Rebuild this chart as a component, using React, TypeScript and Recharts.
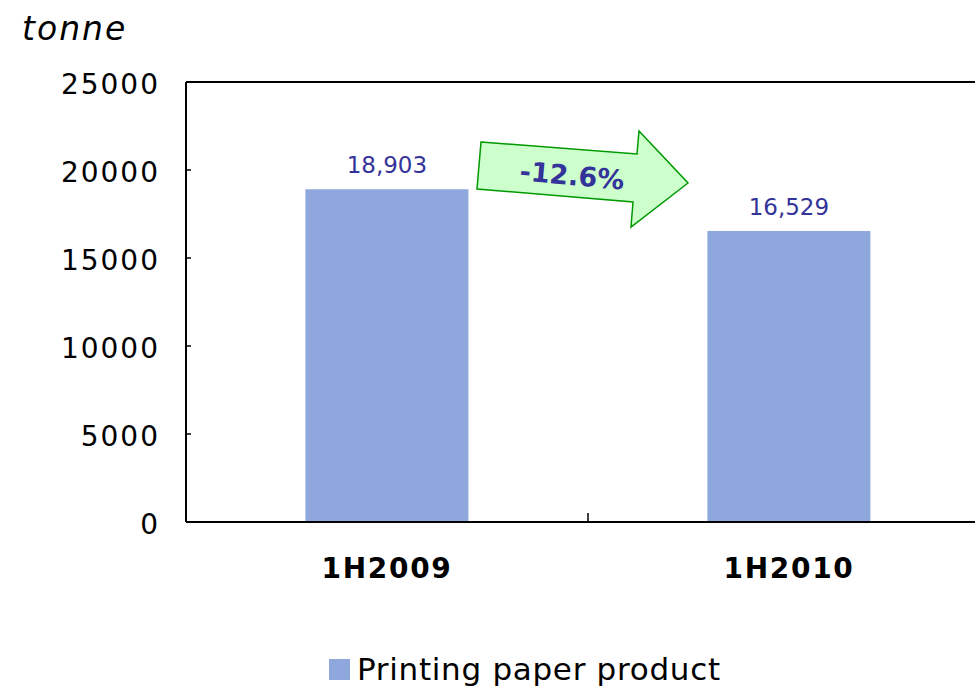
import { BarChart, Bar, XAxis, YAxis, Legend, LabelList, ReferenceLine } from "recharts";

const PERIODS = ["1H2009", "1H2010"];
const VOLUMES = [18903, 16529];
const Y_TICKS = [0, 5000, 10000, 15000, 20000, 25000];
const SERIES_NAME = "Printing paper product";
const CHANGE_LABEL = "-12.6%";

const FONT = "'DejaVu Sans', Verdana, sans-serif";
const BAR = "#8EA8DE";
const NAVY = "#333399";

const data = PERIODS.map((p, i) => ({ period: p, volume: VOLUMES[i] }));

const fmt = (v: number) => v.toLocaleString("en-US");

function XTick(props: any) {
  const { x, y, payload } = props;
  const half = payload?.offset ?? 201;
  return (
    <g>
      {payload.index === 0 && (
        <line x1={x + half} x2={x + half} y1={y} y2={y - 9} stroke="#000" strokeWidth={1.5} />
      )}
      <text x={x} y={y + 56} textAnchor="middle" fontFamily={FONT} fontWeight="bold" fontSize={28} letterSpacing={1.7} fill="#000">
        {payload.value}
      </text>
    </g>
  );
}

function YTick(props: any) {
  const { x, y, payload } = props;
  return (
    <g>
      <line x1={x} x2={x + 5} y1={y} y2={y} stroke="#000" strokeWidth={1.5} />
      <text x={x - 26} y={y + 12} textAnchor="end" fontFamily={FONT} fontSize={28} letterSpacing={2} fill="#000">
        {payload.value}
      </text>
    </g>
  );
}

function LegendBox() {
  return (
    <div style={{ display: "flex", alignItems: "center", fontFamily: FONT, fontSize: 31, letterSpacing: 0.7, color: "#000", lineHeight: "35px" }}>
      <span style={{ display: "inline-block", width: 21, height: 21, background: BAR, marginRight: 7 }} />
      {SERIES_NAME}
    </div>
  );
}

export default function App() {
  return (
    <div style={{ position: "fixed", left: 0, top: 0, width: 975, height: 688, overflow: "hidden", background: "#fff" }}>
      <div style={{ position: "absolute", left: 22, top: 9, fontFamily: FONT, fontStyle: "italic", fontSize: 33, letterSpacing: 2 }}>
        tonne
      </div>
      <BarChart
        width={1000}
        height={688}
        data={data}
        margin={{ top: 82, right: 10, bottom: 61, left: 0 }}
        barCategoryGap="29.7%"
      >
        <XAxis
          dataKey="period"
          tick={<XTick />}
          tickLine={false}
          tickSize={0}
          tickMargin={0}
          axisLine={{ stroke: "#000", strokeWidth: 2 }}
          height={70}
          interval={0}
        />
        <YAxis
          domain={[0, 25000]}
          ticks={Y_TICKS}
          tick={<YTick />}
          tickLine={false}
          tickSize={0}
          tickMargin={0}
          width={186}
          axisLine={{ stroke: "#000", strokeWidth: 2 }}
          interval={0}
        />
        <ReferenceLine y={25000} stroke="#000" strokeWidth={2} />
        <Legend
          content={<LegendBox />}
          wrapperStyle={{ position: "absolute", left: 329, top: 652, width: "auto" }}
        />
        <Bar dataKey="volume" name={SERIES_NAME} fill={BAR} isAnimationActive={false}>
          <LabelList
            dataKey="volume"
            position="top"
            offset={16}
            formatter={(v: any) => fmt(Number(v))}
            style={{ fontFamily: FONT, fontSize: 23, fill: NAVY }}
          />
        </Bar>
      </BarChart>
      <svg width={975} height={688} style={{ position: "absolute", left: 0, top: 0, pointerEvents: "none" }}>
        <polygon
          points="481,142 637,154 639,131 688,183 631,227 633,202 477,189"
          fill="#CCFFCC"
          stroke="#009900"
          strokeWidth={1.5}
        />
        <text
          x={572}
          y={185}
          textAnchor="middle"
          transform="rotate(5 572 176)"
          fontFamily={FONT}
          fontWeight="bold"
          fontSize={27}
          fill={NAVY}
        >
          {CHANGE_LABEL}
        </text>
      </svg>
    </div>
  );
}
